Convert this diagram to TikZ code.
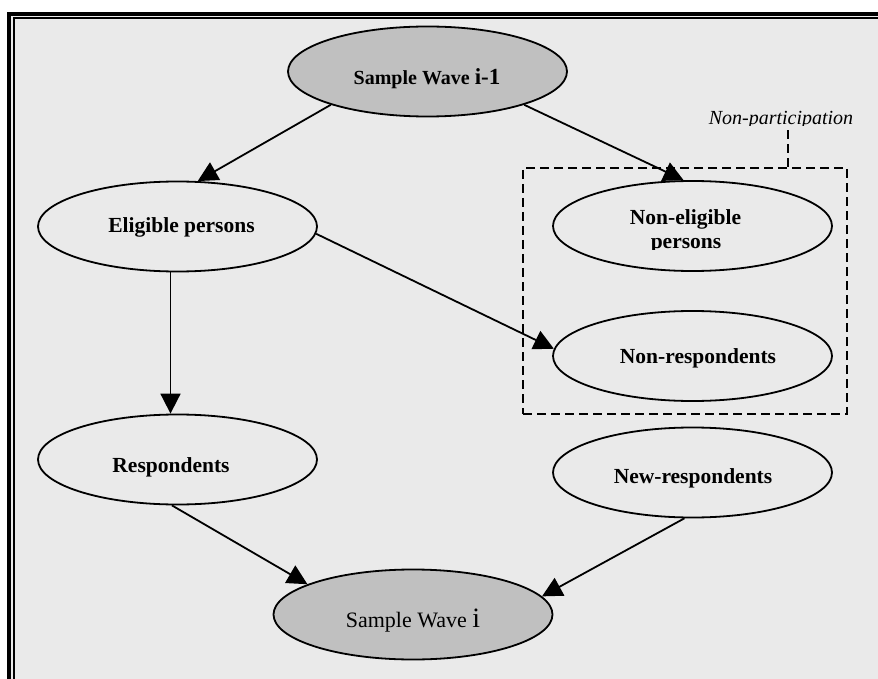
\documentclass[tikz,border=0pt]{standalone}
\usepackage{fontspec}
\setmainfont{Liberation Serif}
\usetikzlibrary{arrows.meta,shapes.geometric}
\pgfdeclarelayer{back}
\pgfdeclarelayer{conn}
\pgfsetlayers{back,conn,main}
\definecolor{bgc}{RGB}{234,234,234}
\definecolor{grayc}{RGB}{192,192,192}
\begin{document}
\begin{tikzpicture}[x=1pt,y=-1pt,
  ell/.style={ellipse, draw, line width=1.8pt, minimum width=279pt, minimum height=90pt, inner sep=0pt, fill=bgc},
  grayell/.style={ell, fill=grayc},
  lab/.style={anchor=base, inner sep=0pt, font=\fontsize{21.5}{22}\selectfont\bfseries},
  conn/.style={line width=1.8pt, -{Triangle[length=20pt,width=20pt]}},
  dashbox/.style={line width=2.8pt, dash pattern=on 9pt off 5pt},
]
\useasboundingbox (0,0) rectangle (878,679);
\clip (0,0) rectangle (878,679);
\begin{pgfonlayer}{back}
  \fill[white] (0,0) rectangle (878,679);
  \fill[bgc] (9.2,14.2) rectangle (900,700);
  \draw[line width=3.7pt] (9.2,14.2) rectangle (900,700);
  \draw[line width=2.2pt] (13.9,18.3) rectangle (900,700);
\end{pgfonlayer}

% ellipses
\node[grayell] (top)  at (427.5,71.5) {};
\node[ell]     (elig) at (177.5,226.5) {};
\node[ell]     (ne)   at (692.5,226) {};
\node[ell]     (nr)   at (692.5,356) {};
\node[ell]     (resp) at (177.5,459.5) {};
\node[ell]     (newr) at (692.5,472.5) {};
\node[grayell] (swi)  at (413,614.5) {};

% labels
\node[lab] (top-t) at (427,85) {{\fontsize{20}{22}\selectfont Sample Wave }{\fontsize{23}{24}\selectfont i-1}};
\node[lab] (elig-t) at (181.5,233) {Eligible persons};
\node[lab] (ne-t1) at (685.5,225) {Non-eligible};
\begin{scope}
  \clip (600,230) rectangle (780,249);
  \node[lab] (ne-t2) at (686,248) {persons};
\end{scope}
\node[lab] (nr-t) at (698,363) {Non-respondents};
\node[lab] (resp-t) at (171,472) {Respondents};
\node[lab] (newr-t) at (693,483) {New-respondents};
\node[lab, font=\fontsize{22}{24}\selectfont] (swi-t) at (413,627) {Sample Wave {\fontsize{28}{28}\selectfont i}};

% non-participation box
\begin{pgfonlayer}{conn}
  \node[draw, dashbox, rectangle, minimum width=324pt, minimum height=246pt, inner sep=0pt] (npbox) at (685,291) {};
  \coordinate (lead) at (788,129);
  \draw[dashbox] (npbox.north -| lead) -- (lead);
\end{pgfonlayer}
\begin{scope}
  \clip (690,95) rectangle (870,126);
  \node[anchor=base, inner sep=0pt, font=\fontsize{20}{22}\selectfont\itshape] (np-t) at (781,125) {Non-participation};
\end{scope}

% connectors
\begin{pgfonlayer}{conn}
  \draw[conn] (top.199) -- (elig.66);
  \draw[conn] (top.341) -- (ne.101);
  \draw[conn] (elig.357) -- (nr.177.5);
  \draw[conn] ([xshift=-7pt]elig.south) -- ([xshift=-7pt]resp.north);
  \draw[conn] (resp.263) -- (swi.164.6);
  \draw[conn] (newr.260.6) -- (swi.8.8);
\end{pgfonlayer}
\end{tikzpicture}
\end{document}
